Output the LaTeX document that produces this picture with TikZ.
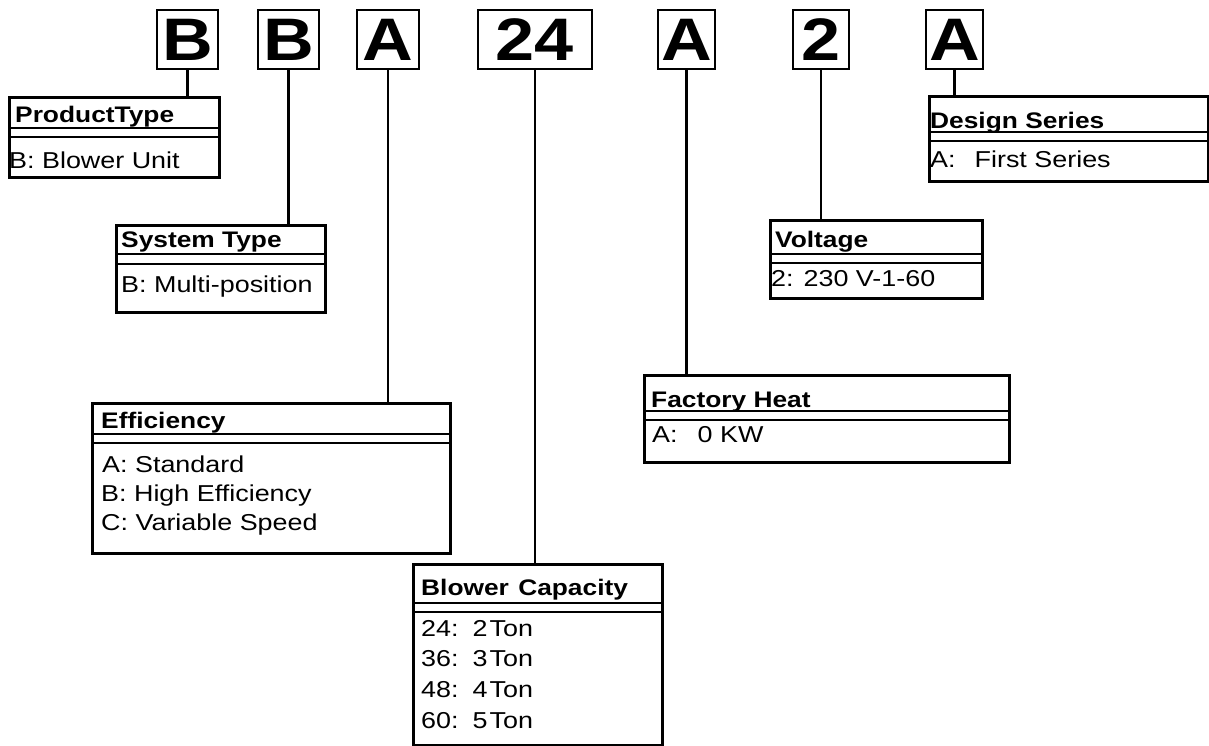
\documentclass[tikz,border=0pt]{standalone}
\usepackage{fontspec}
\setmainfont{Liberation Sans}[FakeStretch=1.17]
\usetikzlibrary{calc}
\begin{document}
\begin{tikzpicture}[x=1pt,y=-1pt,
  letterbox/.style={draw, line width=2.6pt, inner sep=0, font=\fontsize{60}{60}\selectfont\bfseries},
  infobox/.style={draw, line width=2.6pt, anchor=north west, inner sep=0},
  sep/.style={line width=1.3pt},
  conn/.style={line width=2.2pt},
  txt/.style={anchor=base west, inner sep=0, font=\fontsize{23}{28}\selectfont},
  hdr/.style={anchor=base west, inner sep=0, font=\fontsize{22.5}{27}\selectfont\bfseries}]
\useasboundingbox (0,0) rectangle (1209,745);
% code letters
\node[letterbox, minimum width=61pt, minimum height=59pt] (l1) at (187.5,39.5) {B};
\node[letterbox, minimum width=61pt, minimum height=59pt] (l2) at (288.5,39.5) {B};
\node[letterbox, minimum width=62pt, minimum height=59pt] (l3) at (388,39.5) {A};
\node[letterbox, minimum width=114pt, minimum height=59pt] (l4) at (535,39.5) {24};
\node[letterbox, minimum width=57pt, minimum height=59pt] (l5) at (686.5,39.5) {A};
\node[letterbox, minimum width=56pt, minimum height=59pt] (l6) at (821,39.5) {2};
\node[letterbox, minimum width=57pt, minimum height=59pt] (l7) at (954.5,39.5) {A};
% info boxes
\node[infobox, minimum width=210pt, minimum height=80pt] (pt) at (8,96) {};
\node[infobox, minimum width=209pt, minimum height=87pt] (st) at (115,224) {};
\node[infobox, minimum width=358pt, minimum height=150pt] (ef) at (91,402) {};
\node[infobox, minimum width=249pt, minimum height=181pt] (bc) at (412,563) {};
\node[infobox, minimum width=365pt, minimum height=87pt] (fh) at (643,374) {};
\node[infobox, minimum width=212pt, minimum height=78pt] (vo) at (769,219) {};
\node[infobox, minimum width=279pt, minimum height=85pt] (ds) at (928,95) {};
% separators
\foreach \b/\a/\c in {pt/32/41, st/30/40, ef/32/41, bc/40/49, fh/37/46, vo/35/44, ds/37/46}{
  \draw[sep] ($(\b.north west)+(0,\a)$) -- ($(\b.north east)+(0,\a)$);
  \draw[sep] ($(\b.north west)+(0,\c)$) -- ($(\b.north east)+(0,\c)$);
}
% texts
\node[hdr] (pth) at (15,122) {ProductType};
\node[txt] (ptc) at (9,168) {B: Blower Unit};
\node[hdr] (sth) at (121,247) {System Type};
\node[txt] (stc) at (121,292) {B: Multi-position};
\node[hdr] (efh) at (101,428) {Efficiency};
\node[txt] (efa) at (102,472) {A: Standard};
\node[txt] (efb) at (101,501) {B: High Efficiency};
\node[txt] (efc) at (101,530) {C: Variable Speed};
\node[hdr] (bch) at (421,595) {Blower\hspace{2pt} Capacity};
\node[txt] (bc1) at (421,636) {24:\hspace{14pt}2\kern2pt Ton};
\node[txt] (bc2) at (421,666) {36:\hspace{14pt}3\kern2pt Ton};
\node[txt] (bc3) at (421,697) {48:\hspace{14pt}4\kern2pt Ton};
\node[txt] (bc4) at (421,728) {60:\hspace{14pt}5\kern2pt Ton};
\node[hdr] (fhh) at (651,407) {Factory Heat};
\node[txt] (fhc) at (652,442) {A:\hspace{20pt}0 KW};
\node[hdr] (voh) at (775,247) {Voltage};
\node[txt] (voc) at (771,286) {2: 230 V-1-60};
\node[hdr] (dsh) at (930,128) {Design Series};
\node[txt] (dsc) at (930,167) {A:\hspace{19pt}First Series};
% connectors
\draw[conn] (l1.south) -- (l1.south |- pt.north);
\draw[conn] (l2.south) -- (l2.south |- st.north);
\draw[conn] (l3.south) -- (l3.south |- ef.north);
\draw[conn] (l4.south) -- (l4.south |- bc.north);
\draw[conn] (l5.south) -- (l5.south |- fh.north);
\draw[conn] (l6.south) -- (l6.south |- vo.north);
\draw[conn] (l7.south) -- (l7.south |- ds.north);
\end{tikzpicture}
\end{document}
